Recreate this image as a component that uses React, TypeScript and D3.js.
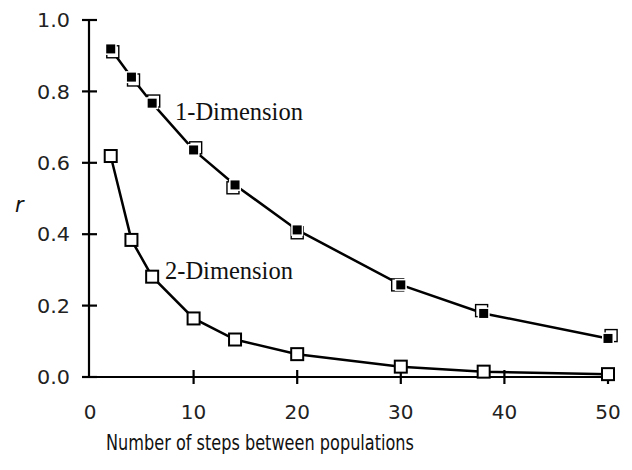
import React from "react";
import * as d3 from "d3";

const steps = [2, 4, 6, 10, 14, 20, 30, 38, 50];
const oneDim = [0.919, 0.84, 0.767, 0.636, 0.538, 0.412, 0.258, 0.178, 0.108];
const twoDim = [0.619, 0.384, 0.281, 0.164, 0.105, 0.064, 0.029, 0.015, 0.008];
// error displacement (steps, r) drawn as the offset bracket behind 1-D markers
const oneDimErrX = [0.2, 0.2, 0.15, 0.2, -0.2, 0, -0.3, -0.2, 0.3];
const oneDimErrY = [-0.008, -0.008, 0.006, 0.006, -0.008, -0.008, 0, 0.008, 0.008];
const xTicks = [0, 10, 20, 30, 40, 50];
const yTicks = [0, 0.2, 0.4, 0.6, 0.8, 1.0];

const W = 632;
const H = 470;

export default function App() {
  const x = d3.scaleLinear().domain([0, 50]).range([90, 608]);
  const y = d3.scaleLinear().domain([0, 1]).range([377, 20]);
  const line = d3
    .line<[number, number]>()
    .x((d) => x(d[0]))
    .y((d) => y(d[1]));
  const d1 = steps.map((s, i) => [s, oneDim[i]] as [number, number]);
  const d2 = steps.map((s, i) => [s, twoDim[i]] as [number, number]);
  const sans = "'DejaVu Sans', Verdana, sans-serif";
  const serif = "'Liberation Serif', 'Times New Roman', serif";
  return (
    <svg
      width={W}
      height={H}
      style={{ position: "absolute", left: 0, top: 0, background: "#fff" }}
    >
      <rect width={W} height={H} fill="#fff" />
      {/* axes */}
      <line x1={x(0) - 1} x2={x(0) - 1} y1={y(1)} y2={y(0)} stroke="#000" strokeWidth={2.2} />
      <line x1={x(0) - 1} x2={615} y1={y(0)} y2={y(0)} stroke="#000" strokeWidth={2.2} />
      {yTicks.map((t) => (
        <g key={"y" + t}>
          <line x1={x(0) - 8} x2={x(0) + 7} y1={y(t)} y2={y(t)} stroke="#000" strokeWidth={2.2} />
          <text
            x={70}
            y={y(t)}
            dy="0.36em"
            textAnchor="end"
            fontFamily={sans}
            fontSize={20}
            textLength={33}
            lengthAdjust="spacingAndGlyphs"
            fill="#222"
          >
            {t.toFixed(1)}
          </text>
        </g>
      ))}
      {xTicks.map((t) => (
        <g key={"x" + t}>
          {t > 0 && (
            <line x1={x(t)} x2={x(t)} y1={y(0) - 7} y2={y(0) + 7} stroke="#000" strokeWidth={2.2} />
          )}
          <text
            x={x(t)}
            y={419}
            textAnchor="middle"
            fontFamily={sans}
            fontSize={20}
            fill="#222"
          >
            {t}
          </text>
        </g>
      ))}
      <text
        x={260}
        y={450}
        textAnchor="middle"
        fontFamily={sans}
        fontSize={20.5}
        textLength={308}
        lengthAdjust="spacingAndGlyphs"
        fill="#111"
      >
        Number of steps between populations
      </text>
      <text x={15} y={212} fontFamily={sans} fontStyle="italic" fontSize={21} fill="#111">
        r
      </text>

      {/* lines */}
      <path d={line(d1) || ""} fill="none" stroke="#000" strokeWidth={2.5} />
      <path d={line(d2) || ""} fill="none" stroke="#000" strokeWidth={2.5} />

      {/* 1-D markers with offset error bracket */}
      {d1.map((d, i) => (
        <g key={"a" + i}>
          <rect
            x={x(d[0] + oneDimErrX[i]) - 6}
            y={y(d[1] + oneDimErrY[i]) - 6}
            width={12}
            height={12}
            fill="#fff"
            stroke="#000"
            strokeWidth={1.4}
          />
          <rect
            x={x(d[0]) - 6}
            y={y(d[1]) - 6}
            width={12}
            height={12}
            fill="#fff"
            stroke="none"
          />
          <rect x={x(d[0]) - 4.5} y={y(d[1]) - 4.5} width={9} height={9} fill="#000" />
        </g>
      ))}

      {/* 2-D markers */}
      {d2.map((d, i) => (
        <rect
          key={"b" + i}
          x={x(d[0]) - 6}
          y={y(d[1]) - 6}
          width={12}
          height={12}
          fill="#fff"
          stroke="#000"
          strokeWidth={2}
        />
      ))}

      <text x={175} y={120} fontFamily={serif} fontSize={24.5} fill="#111">
        1-Dimension
      </text>
      <text x={165} y={279} fontFamily={serif} fontSize={24.5} fill="#111">
        2-Dimension
      </text>
    </svg>
  );
}
